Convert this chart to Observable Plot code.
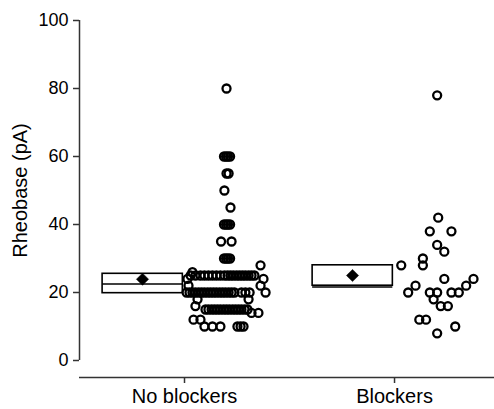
<!DOCTYPE html>
<html>
<head>
<meta charset="utf-8">
<script src="https://cdn.jsdelivr.net/npm/d3@7"></script>
<script src="https://cdn.jsdelivr.net/npm/@observablehq/plot@0.6"></script>
<style>
  body { margin: 0; background: #fff; }
</style>
</head>
<body>
<div id="chart"></div>
<script>
// Groups along the horizontal axis
const categories = ["No blockers", "Blockers"];
const yTicks = [0, 20, 40, 60, 80, 100];

// Rheobase of each cell (pA), no blockers
const noBlockersValues = [
  80,
  60, 60, 60, 60,
  55, 55,
  50,
  45,
  40, 40, 40, 40,
  35, 35,
  30, 30, 30, 30,
  28,
  26,
  25, 25, 25, 25, 25, 25, 25, 25, 25, 25, 25, 25, 25, 25, 25, 25, 25, 25, 25,
  24, 24,
  22, 22,
  20, 20, 20, 20, 20, 20, 20, 20, 20, 20, 20, 20, 20, 20, 20, 20, 20, 20, 20, 20, 20,
  18, 18,
  16,
  15, 15, 15, 15, 15, 15, 15, 15, 15, 15, 15, 15, 15, 15, 15,
  14, 14,
  12, 12,
  10, 10, 10, 10, 10, 10
];
// Horizontal scatter offset of each cell, in group widths
const noBlockersJitter = [
  0.200,
  0.188, 0.198, 0.207, 0.217,
  0.200, 0.210,
  0.190,
  0.219,
  0.188, 0.198, 0.207, 0.217,
  0.174, 0.224,
  0.188, 0.198, 0.207, 0.217,
  0.362,
  0.038,
  0.029, 0.052, 0.076, 0.095, 0.114, 0.133, 0.152, 0.171, 0.190, 0.205, 0.219, 0.233, 0.248, 0.262, 0.276, 0.290, 0.305, 0.319, 0.333,
  0.014, 0.376,
  0.019, 0.362,
  0.010, 0.024, 0.038, 0.052, 0.067, 0.081, 0.095, 0.110, 0.124, 0.138, 0.152, 0.167, 0.181, 0.195, 0.210, 0.224, 0.238, 0.271, 0.290, 0.310, 0.386,
  0.062, 0.305,
  0.052,
  0.100, 0.114, 0.129, 0.143, 0.157, 0.171, 0.186, 0.200, 0.214, 0.229, 0.243, 0.257, 0.271, 0.286, 0.300,
  0.319, 0.352,
  0.043, 0.076,
  0.095, 0.133, 0.171, 0.252, 0.267, 0.281
];

// Rheobase of each cell (pA), with blockers
const blockersValues = [78, 42, 38, 38, 34, 32, 30, 28, 28, 24, 24, 22, 22, 20, 20, 20, 20, 20, 18, 16, 16, 12, 12, 10, 8];
const blockersJitter = [0.203, 0.208, 0.168, 0.271, 0.203, 0.237, 0.135, 0.135, 0.032, 0.237, 0.376, 0.341, 0.100, 0.065, 0.168, 0.203, 0.271, 0.306, 0.186, 0.220, 0.254, 0.118, 0.150, 0.289, 0.203];

// Summary per group: box bounds, median line and mean marker (pA)
const boxLow = [19.8, 22.0];
const boxHigh = [25.5, 28.0];
const medians = [22.5, 21.6];
const means = [23.9, 25.0];

const points = [
  ...noBlockersValues.map((v, i) => ({group: 0, value: v, jitter: noBlockersJitter[i]})),
  ...blockersValues.map((v, i) => ({group: 1, value: v, jitter: blockersJitter[i]}))
];
const summary = categories.map((c, i) => ({
  group: i, low: boxLow[i], high: boxHigh[i], median: medians[i], mean: means[i]
}));

// Box sits to the left of each group's tick, scatter to the right
const boxLeft = -0.39, boxRight = -0.008, boxMid = -0.2;
const xMin = -0.5, xMax = 1.476;

const chart = Plot.plot({
  width: 494,
  height: 409,
  marginLeft: 79,
  marginRight: 0,
  marginTop: 20,
  marginBottom: 32,
  style: {fontFamily: "'Liberation Sans', Arial, sans-serif", color: "#000", background: "#fff", overflow: "visible"},
  x: {domain: [xMin, xMax]},
  y: {domain: [-5, 100]},
  marks: [
    Plot.ruleX([xMin], {y1: 0, y2: 100, stroke: "#333", strokeWidth: 1.5}),
    Plot.axisY({ticks: yTicks, tickSize: 6, tickPadding: 5, stroke: "#333", strokeWidth: 1.5, fontSize: 18, label: null}),
    Plot.ruleY([-5], {x1: xMin, x2: xMax, stroke: "#333", strokeWidth: 1.5}),
    Plot.axisX({ticks: [0, 1], tickFormat: i => categories[i], tickSize: 6, tickPadding: 5, stroke: "#333", strokeWidth: 1.5, fontSize: 20, label: null}),
    Plot.text(["Rheobase (pA)"], {x: xMin, y: 50, dx: -59, rotate: -90, fontSize: 20, fill: "#000"}),
    Plot.rect(summary, {x1: d => d.group + boxLeft, x2: d => d.group + boxRight, y1: "low", y2: "high", fill: "white", stroke: "black", strokeWidth: 1.6}),
    Plot.ruleY(summary, {y: "median", x1: d => d.group + boxLeft, x2: d => d.group + boxRight, stroke: "black", strokeWidth: 1.6}),
    Plot.dot(summary, {x: d => d.group + boxMid, y: "mean", symbol: "diamond2", r: 5.5, fill: "black", stroke: "black", strokeWidth: 0.5}),
    Plot.dot(points, {x: d => d.group + d.jitter, y: "value", r: 4, fill: "none", stroke: "black", strokeWidth: 2.3})
  ]
});
document.getElementById("chart").appendChild(chart);
</script>
</body>
</html>
